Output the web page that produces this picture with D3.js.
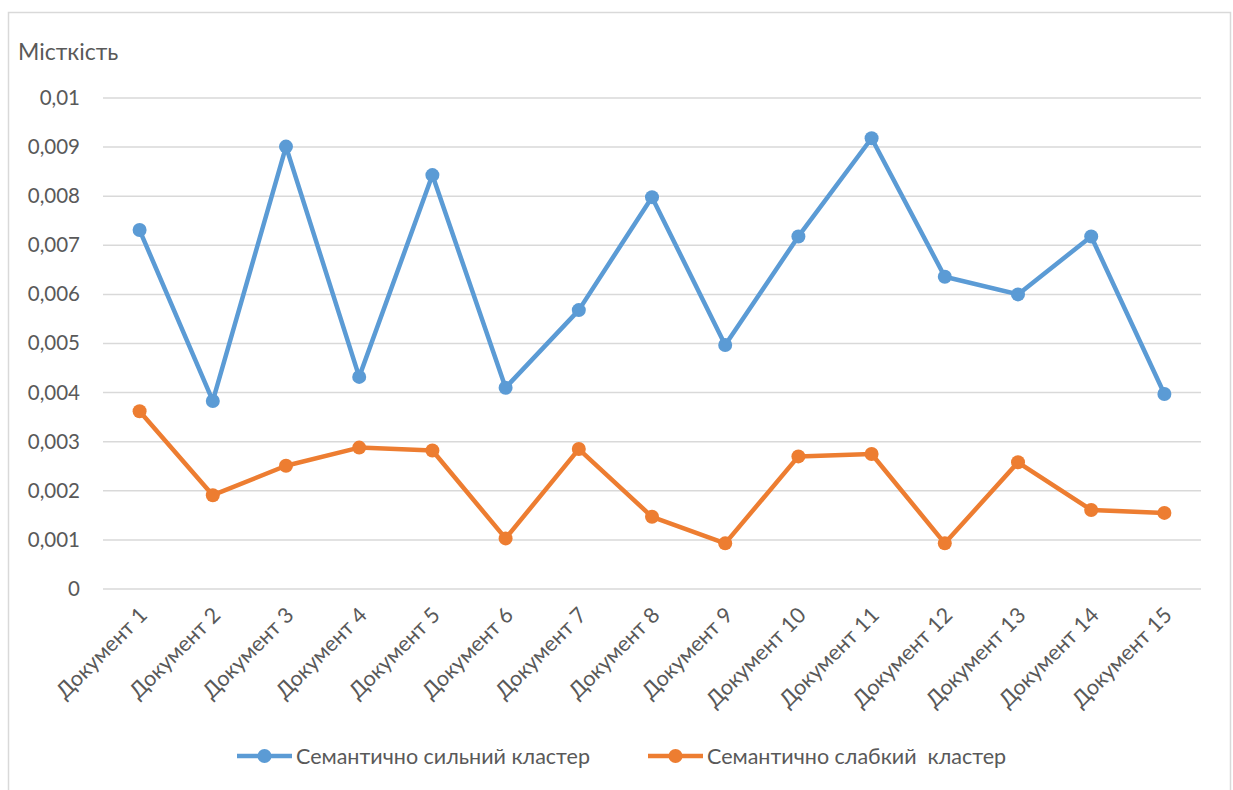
<!DOCTYPE html>
<html>
<head>
<meta charset="utf-8">
<script src="https://cdn.jsdelivr.net/npm/d3@7"></script>
<style>
  html, body { margin: 0; padding: 0; background: #fff; }
  svg { display: block; }
  text { font-family: Lato, "Open Sans", "Liberation Sans", sans-serif; fill: #595959; white-space: pre; }
</style>
</head>
<body>
<svg id="chart" width="1233" height="790"></svg>
<script>
// Categories and series values
const documents = ["Документ 1", "Документ 2", "Документ 3", "Документ 4", "Документ 5",
  "Документ 6", "Документ 7", "Документ 8", "Документ 9", "Документ 10",
  "Документ 11", "Документ 12", "Документ 13", "Документ 14", "Документ 15"];
const strongCluster = [0.00730, 0.00382, 0.00900, 0.00431, 0.00842, 0.00409, 0.00567, 0.00797,
  0.00496, 0.00717, 0.00917, 0.00635, 0.00599, 0.00717, 0.00396];
const weakCluster = [0.00361, 0.00190, 0.00250, 0.00287, 0.00281, 0.00102, 0.00284, 0.00146,
  0.00092, 0.00269, 0.00274, 0.00092, 0.00257, 0.00160, 0.00154];
const yTicks = [0, 0.001, 0.002, 0.003, 0.004, 0.005, 0.006, 0.007, 0.008, 0.009, 0.01];
const seriesNames = ["Семантично сильний кластер", "Семантично слабкий  кластер"];
const yTitle = "Місткість";

const colors = ["#5b9bd5", "#ed7d31"];
const svg = d3.select("#chart");

// Outer frame
svg.append("rect")
  .attr("x", 8.5).attr("y", 12.5).attr("width", 1222).attr("height", 800)
  .attr("fill", "none").attr("stroke", "#d9d9d9").attr("stroke-width", 1.5);

const plot = { left: 103, right: 1201, top: 97.5, bottom: 588.5 };

const x = d3.scaleBand().domain(documents).range([plot.left, plot.right]);
const y = d3.scaleLinear().domain([0, 0.01]).range([plot.bottom, plot.top]);

const fmt = v => v === 0 ? "0" : String(+v.toFixed(3)).replace(".", ",");

// Horizontal gridlines + y labels
const yAxis = d3.axisLeft(y).tickValues(yTicks).tickFormat(fmt)
  .tickSize(-(plot.right - plot.left)).tickPadding(23);
const gy = svg.append("g").attr("transform", `translate(${plot.left},0)`).call(yAxis);
gy.select(".domain").remove();
gy.selectAll(".tick line").attr("stroke", "#d9d9d9").attr("stroke-width", 1.5);
gy.selectAll(".tick text").attr("font-size", 20.5).attr("fill", "#595959")
  .style("font-family", "Lato, 'Open Sans', sans-serif").attr("dy", "0.34em");

// Y axis title
svg.append("text").attr("x", 18).attr("y", 60).attr("font-size", 23).text(yTitle);

// X axis labels, rotated
const xAxis = d3.axisBottom(x).tickSize(0).tickPadding(0);
const gx = svg.append("g").attr("transform", `translate(0,${plot.bottom})`).call(xAxis);
gx.select(".domain").remove();
gx.selectAll(".tick text")
  .attr("font-size", 21.5).attr("fill", "#595959")
  .style("font-family", "Lato, 'Open Sans', sans-serif")
  .attr("text-anchor", "end")
  .attr("dy", 0)
  .attr("transform", "translate(9,28) rotate(-45)");

// Series lines and markers
const line = d3.line().x((d, i) => x(documents[i]) + x.bandwidth() / 2).y(d => y(d));
[strongCluster, weakCluster].forEach((vals, s) => {
  svg.append("path").datum(vals)
    .attr("d", line).attr("fill", "none")
    .attr("stroke", colors[s]).attr("stroke-width", 4.5)
    .attr("stroke-linejoin", "round");
  svg.append("g").selectAll("circle").data(vals).join("circle")
    .attr("cx", (d, i) => x(documents[i]) + x.bandwidth() / 2)
    .attr("cy", d => y(d))
    .attr("r", 7).attr("fill", colors[s]);
});

// Legend
const legendItems = [{ x: 237, tx: 296 }, { x: 648, tx: 707 }];
legendItems.forEach((it, s) => {
  const g = svg.append("g");
  g.append("line").attr("x1", it.x).attr("x2", it.x + 55).attr("y1", 756).attr("y2", 756)
    .attr("stroke", colors[s]).attr("stroke-width", 4.5);
  g.append("circle").attr("cx", it.x + 27.5).attr("cy", 756).attr("r", 7).attr("fill", colors[s]);
  g.append("text").attr("x", it.tx).attr("y", 756).attr("dy", "0.35em")
    .attr("font-size", 21.5).text(seriesNames[s]);
});
</script>
</body>
</html>
